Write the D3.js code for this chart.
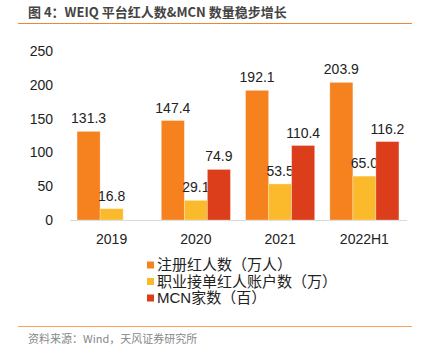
<!DOCTYPE html>
<html><head><meta charset="utf-8">
<script src="https://cdn.jsdelivr.net/npm/d3@7"></script>
<style>body{margin:0;background:#fff}svg{display:block}</style>
</head><body>
<svg id="c" width="424" height="356"></svg>
<script>
const categories = ["2019","2020","2021","2022H1"];
const seriesNames = ["注册红人数（万人）","职业接单红人账户数（万）","MCN家数（百）"];
const registered = [131.3,147.4,192.1,203.9];
const professional = [16.8,29.1,53.5,65.0];
const mcn = [null,74.9,110.4,116.2];
const yTicks = [0,50,100,150,200,250];
const colors = ["#F5821F","#FBBA2B","#DC3D1A"];
const title = "图 4：WEIQ 平台红人数&MCN 数量稳步增长";
const source = "资料来源：Wind，天风证券研究所";

const svg = d3.select("#c");
const font = "'Liberation Sans', Arial, 'Noto Sans CJK SC', sans-serif";
const cjk = "'Noto Sans CJK SC', sans-serif";

svg.append("text").attr("x",28).attr("y",17).attr("font-family",cjk).attr("font-size",13).attr("font-weight","bold").attr("fill","#444").text(title);
svg.append("line").attr("x1",18).attr("x2",412).attr("y1",23.5).attr("y2",23.5).attr("stroke","#E8893A").attr("stroke-width",1);

const x0 = d3.scaleBand().domain(categories).range([69.5,406.5]).paddingInner(0.18).paddingOuter(0.09);
const x1 = d3.scaleBand().domain([0,1,2]).range([0,x0.bandwidth()]);
const y = d3.scaleLinear().domain([0,250]).range([220,51.3]);

// y axis labels
svg.append("g").selectAll("text").data(yTicks).join("text")
  .attr("x",53).attr("y",d=>y(d)).attr("dy","0.35em").attr("text-anchor","end")
  .attr("font-family",font).attr("font-size",14).attr("fill","#222").text(d=>d);

// baseline
svg.append("line").attr("x1",70).attr("x2",407).attr("y1",220.5).attr("y2",220.5).attr("stroke","#d9d9d9").attr("stroke-width",1);

const series = [registered, professional, mcn];
series.forEach((vals,si)=>{
  const g = svg.append("g");
  const data = categories.map((c,i)=>({c,v:vals[i]})).filter(d=>d.v!=null);
  g.selectAll("rect").data(data).join("rect")
    .attr("x",d=>x0(d.c)+x1(si)).attr("width",x1.bandwidth())
    .attr("y",d=>y(d.v)).attr("height",d=>y(0)-y(d.v))
    .attr("fill",colors[si]).attr("stroke","rgba(255,255,255,0.35)").attr("stroke-width",0.8);
  g.selectAll("text").data(data).join("text")
    .attr("x",d=>x0(d.c)+x1(si)+x1.bandwidth()/2).attr("y",d=>y(d.v)-8)
    .attr("text-anchor","middle").attr("font-family",font).attr("font-size",14).attr("fill","#222")
    .text(d=>d.v.toFixed(1));
});

// x labels
svg.append("g").selectAll("text").data(categories).join("text")
  .attr("x",d=>x0(d)+x0.bandwidth()/2).attr("y",244).attr("text-anchor","middle")
  .attr("font-family",font).attr("font-size",14).attr("fill","#222").text(d=>d);

// legend
const lg = svg.append("g");
seriesNames.forEach((n,i)=>{
  const cy = 265 + i*16.5;
  lg.append("rect").attr("x",147).attr("y",cy-3.5).attr("width",7).attr("height",7).attr("fill",colors[i]);
  lg.append("text").attr("x",157).attr("y",cy).attr("dy","0.36em").attr("font-family",font).attr("font-size",15).attr("fill","#222").text(n);
});

svg.append("line").attr("x1",18).attr("x2",412).attr("y1",326.5).attr("y2",326.5).attr("stroke","#F5A45F").attr("stroke-width",1);
svg.append("text").attr("x",28).attr("y",343).attr("font-family",cjk).attr("font-size",11).attr("fill","#888").text(source);
</script>
</body></html>
